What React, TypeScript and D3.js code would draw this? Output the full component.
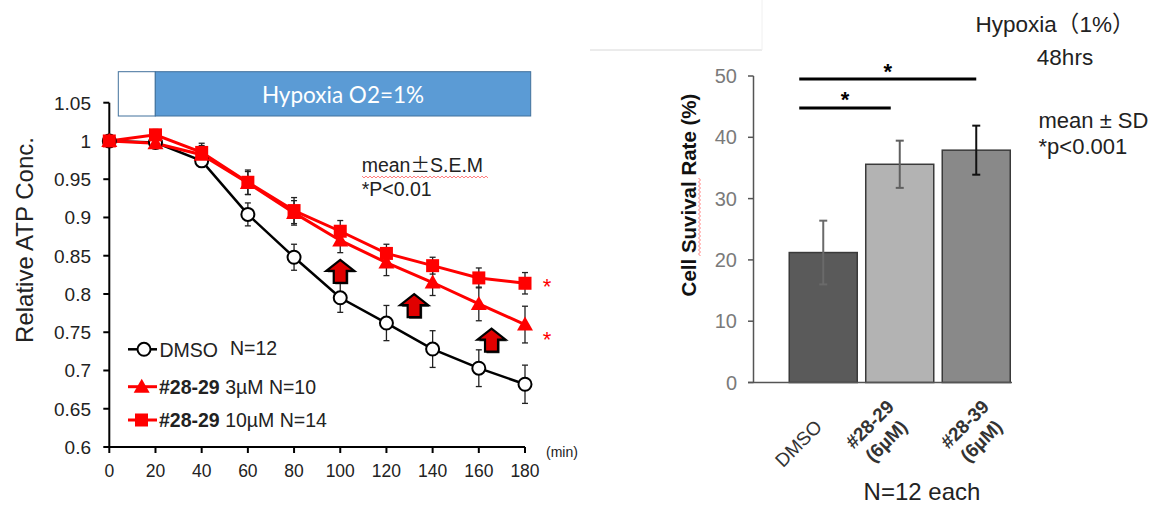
import React from "react";
import * as d3 from "d3";

// ---------- Left chart data ----------
const times = [0, 20, 40, 60, 80, 100, 120, 140, 160, 180];
const dmsoMean = [1.0, 0.998, 0.974, 0.904, 0.848, 0.795, 0.762, 0.728, 0.703, 0.682];
const dmsoSem = [0, 0.004, 0.004, 0.015, 0.017, 0.019, 0.023, 0.024, 0.024, 0.025];
const low3Mean = [1.0, 0.997, 0.982, 0.945, 0.906, 0.87, 0.841, 0.815, 0.787, 0.76];
const low3Sem = [0, 0.006, 0.012, 0.015, 0.016, 0.016, 0.017, 0.017, 0.022, 0.024];
const high10Mean = [1.0, 1.008, 0.985, 0.946, 0.909, 0.882, 0.853, 0.837, 0.821, 0.814];
const high10Sem = [0, 0.007, 0.012, 0.016, 0.017, 0.014, 0.012, 0.011, 0.013, 0.014];
const atpTicks = [0.6, 0.65, 0.7, 0.75, 0.8, 0.85, 0.9, 0.95, 1, 1.05];
const timeTicks = [0, 20, 40, 60, 80, 100, 120, 140, 160, 180];
const arrowMarks = [
  { t: 100, v: 0.829 },
  { t: 132, v: 0.784 },
  { t: 165.5, v: 0.739 },
];
const sigStarsLeft = [0.817, 0.748];

// ---------- Right chart data ----------
const barCats = ["DMSO", "#28-29 (6µM)", "#28-39 (6µM)"];
const barLabelLines = [["DMSO"], ["#28-29", "(6µM)"], ["#28-39", "(6µM)"]];
const barValues = [21.2, 35.6, 37.9];
const barSd = [5.2, 3.85, 4.0];
const barColors = ["#5a5a5a", "#b3b3b3", "#898989"];
const errColors = ["#6a6a6a", "#606060", "#111111"];
const survTicks = [0, 10, 20, 30, 40, 50];
const sigBars = [
  { from: 0, to: 1, level: 44.8 },
  { from: 0, to: 2, level: 49.5 },
];

const ARIAL = "'Liberation Sans', Arial, sans-serif";
const CJK = "'Noto Sans CJK JP', 'Liberation Sans', sans-serif";
const labelShift = [0, -4.5, 14];

function wavy(x0: number, x1: number, y: number, vertical = false) {
  const pts: string[] = [];
  let k = 0;
  for (let p = x0; p <= x1; p += 2) {
    const o = k % 2 === 0 ? -1 : 1;
    pts.push(vertical ? `${y + o},${p}` : `${p},${y + o}`);
    k++;
  }
  return "M" + pts.join("L");
}

export default function App() {
  // Left scales
  const x = d3.scaleLinear().domain([0, 180]).range([109.3, 525]);
  const y = d3.scaleLinear().domain([0.6, 1.05]).range([447, 102.7]);
  const line = d3
    .line<number>()
    .x((_, i) => x(times[i]))
    .y((d) => y(d));

  // Right scales
  const xb = d3.scaleBand<string>().domain(barCats).range([785, 1014.5]).paddingInner(0.111).paddingOuter(0.0555);
  const yb = d3.scaleLinear().domain([0, 50]).range([382.5, 76]);

  const series = [
    { mean: dmsoMean, sem: dmsoSem, color: "#000", width: 2.5, marker: "circle" },
    { mean: low3Mean, sem: low3Sem, color: "#ff0000", width: 3, marker: "triangle" },
    { mean: high10Mean, sem: high10Sem, color: "#ff0000", width: 3, marker: "square" },
  ];

  const marker = (type: string, cx: number, cy: number, key: string) => {
    if (type === "circle")
      return <circle key={key} cx={cx} cy={cy} r={6.5} fill="#fff" stroke="#000" strokeWidth={2} />;
    if (type === "triangle")
      return (
        <path
          key={key}
          d={`M${cx},${cy - 8}L${cx + 8},${cy + 6}L${cx - 8},${cy + 6}Z`}
          fill="#ff0000"
        />
      );
    return <rect key={key} x={cx - 6.5} y={cy - 6.5} width={13} height={13} fill="#ff0000" />;
  };

  const arrowPath = (cx: number, cy: number) =>
    `M${cx},${cy - 12}L${cx + 14},${cy - 1}L${cx + 6.5},${cy - 1}L${cx + 6.5},${cy + 11}L${cx - 6.5},${cy + 11}L${cx - 6.5},${cy - 1}L${cx - 14},${cy - 1}Z`;

  const bw = xb.bandwidth();

  return (
    <svg
      width={1166}
      height={506}
      style={{ position: "absolute", left: 0, top: 0, background: "#fff" }}
      fontFamily={ARIAL}
    >
      <rect width={1166} height={506} fill="#fff" />

      {/* ================= LEFT CHART ================= */}
      <rect x={118.3} y={71.7} width={37} height={44.3} fill="#fff" stroke="#41719c" strokeWidth={1} />
      <rect x={155.3} y={71.7} width={375.4} height={44.3} fill="#5b9bd5" stroke="#41719c" strokeWidth={1} />
      <text x={343} y={102.5} textAnchor="middle" fill="#fff" fontSize={22.5} fontFamily="Lato, 'Open Sans', sans-serif">
        Hypoxia O2=1%
      </text>

      {/* axes */}
      <line x1={x(0)} x2={x(0)} y1={y(1.05)} y2={y(0.6)} stroke="#000" strokeWidth={2} />
      <line x1={x(0)} x2={x(180)} y1={y(0.6)} y2={y(0.6)} stroke="#000" strokeWidth={2} />
      {atpTicks.map((t) => (
        <g key={"yt" + t}>
          <line x1={x(0) - 6} x2={x(0)} y1={y(t)} y2={y(t)} stroke="#000" strokeWidth={2} />
          <text x={91} y={y(t) + 6.8} textAnchor="end" fontSize={19} fill="#222">
            {String(+t.toFixed(2))}
          </text>
        </g>
      ))}
      {timeTicks.map((t) => (
        <g key={"xt" + t}>
          <line x1={x(t)} x2={x(t)} y1={y(0.6)} y2={y(0.6) + 6} stroke="#000" strokeWidth={2} />
          <text x={x(t)} y={477} textAnchor="middle" fontSize={17.5} fill="#222">
            {t}
          </text>
        </g>
      ))}
      <text x={546} y={457} fontSize={14} fill="#222">(min)</text>
      <text transform={`translate(33,240) rotate(-90)`} textAnchor="middle" fontSize={24} fill="#222">
        Relative ATP Conc.
      </text>

      {/* annotation text */}
      <text x={361.7} y={172} fontSize={19.5} fill="#222">
        mean<tspan fontFamily={CJK}>±</tspan>S.E.M
      </text>
      <path d={wavy(362, 488, 177)} fill="none" stroke="#ff6060" strokeWidth={0.8} />
      <text x={361.7} y={195.5} fontSize={19.5} fill="#222">*P&lt;0.01</text>

      {/* series */}
      {series.map((s, si) => (
        <g key={"s" + si}>
          {s.mean.map((m, i) =>
            s.sem[i] > 0 ? (
              <g key={"e" + i} stroke="#222" strokeWidth={1.3}>
                <line x1={x(times[i])} x2={x(times[i])} y1={y(m - s.sem[i])} y2={y(m + s.sem[i])} />
                <line x1={x(times[i]) - 3} x2={x(times[i]) + 3} y1={y(m - s.sem[i])} y2={y(m - s.sem[i])} />
                <line x1={x(times[i]) - 3} x2={x(times[i]) + 3} y1={y(m + s.sem[i])} y2={y(m + s.sem[i])} />
              </g>
            ) : null
          )}
          <path d={line(s.mean) || ""} fill="none" stroke={s.color} strokeWidth={s.width} />
        </g>
      ))}
      {series.map((s, si) => (
        <g key={"m" + si}>{s.mean.map((m, i) => marker(s.marker, x(times[i]), y(m), "mk" + si + "-" + i))}</g>
      ))}

      {/* arrows */}
      {arrowMarks.map((a, i) => (
        <g key={"ar" + i}>
          <path d={arrowPath(x(a.t) + 1.5, y(a.v) + 1.5)} fill="#333" />
          <path d={arrowPath(x(a.t), y(a.v))} fill="#e00000" stroke="#000" strokeWidth={2.2} strokeLinejoin="miter" />
        </g>
      ))}

      {/* significance stars */}
      {sigStarsLeft.map((v, i) => (
        <text key={"ls" + i} x={547} y={y(v) + 13} textAnchor="middle" fontSize={22} fill="#ff0000">
          *
        </text>
      ))}

      {/* legend */}
      <g>
        <line x1={128} x2={157} y1={349.3} y2={349.3} stroke="#000" strokeWidth={2.5} />
        <circle cx={144} cy={349.3} r={6.5} fill="#fff" stroke="#000" strokeWidth={2} />
        <text x={159.5} y={357} fontSize={19.5} fill="#222">DMSO</text>
        <text x={230} y={355} fontSize={19.5} fill="#222">N=12</text>

        <line x1={128} x2={157} y1={386.7} y2={386.7} stroke="#ff0000" strokeWidth={3} />
        <path d={`M141.7,378.7L149.7,392.7L133.7,392.7Z`} fill="#ff0000" />
        <text x={159} y={394} fontSize={19.5} fill="#222">
          <tspan fontWeight="bold">#28-29</tspan>
          <tspan> 3µM N=10</tspan>
        </text>

        <line x1={128} x2={157} y1={420} y2={420} stroke="#ff0000" strokeWidth={3} />
        <rect x={135} y={413.5} width={13} height={13} fill="#ff0000" />
        <text x={159} y={427} fontSize={19.5} fill="#222">
          <tspan fontWeight="bold">#28-29</tspan>
          <tspan> 10µM N=14</tspan>
        </text>
      </g>

      {/* ================= RIGHT CHART ================= */}
      <line x1={590} x2={762} y1={50} y2={50} stroke="#d8d8d8" strokeWidth={1} />
      <line x1={762} x2={762} y1={0} y2={50} stroke="#f0f0f0" strokeWidth={1} />

      <text x={1055} y={32} textAnchor="middle" fontSize={22.5} fill="#222" fontFamily={CJK}>
        <tspan fontFamily={ARIAL}>Hypoxia</tspan>（<tspan fontFamily={ARIAL}>1%</tspan>）
      </text>
      <text x={1065} y={65} textAnchor="middle" fontSize={22.5} fill="#222">48hrs</text>
      <text x={1038.5} y={127.5} fontSize={22} fill="#222">
        mean ± SD
      </text>
      <text x={1038.5} y={153.5} fontSize={22} fill="#222">
        *p&lt;0.001
      </text>

      {/* bars */}
      {barCats.map((c, i) => (
        <rect
          key={"b" + i}
          x={xb(c)}
          y={yb(barValues[i])}
          width={bw}
          height={yb(0) - yb(barValues[i])}
          fill={barColors[i]}
          stroke="#3a3a3a"
          strokeWidth={1.5}
        />
      ))}
      {barCats.map((c, i) => {
        const cx = (xb(c) as number) + bw / 2;
        return (
          <g key={"be" + i} stroke={errColors[i]} strokeWidth={2}>
            <line x1={cx} x2={cx} y1={yb(barValues[i] - barSd[i])} y2={yb(barValues[i] + barSd[i])} />
            <line x1={cx - 4} x2={cx + 4} y1={yb(barValues[i] + barSd[i])} y2={yb(barValues[i] + barSd[i])} />
            <line x1={cx - 4} x2={cx + 4} y1={yb(barValues[i] - barSd[i])} y2={yb(barValues[i] - barSd[i])} />
          </g>
        );
      })}

      {/* axes */}
      <line x1={753.5} x2={753.5} y1={yb(50)} y2={yb(0)} stroke="#555" strokeWidth={1.5} />
      <line x1={748} x2={1012} y1={yb(0)} y2={yb(0)} stroke="#555" strokeWidth={1.5} />
      {survTicks.map((t) => (
        <g key={"st" + t}>
          <line x1={748} x2={753.5} y1={yb(t)} y2={yb(t)} stroke="#555" strokeWidth={1.5} />
          <text x={737} y={yb(t) + 7} textAnchor="end" fontSize={20} fill="#7a7a7a">
            {t}
          </text>
        </g>
      ))}
      <text transform={`translate(696,195) rotate(-90)`} textAnchor="middle" fontSize={20.5} fontWeight="bold" fill="#111">
        Cell Suvival Rate (%)
      </text>
      <path d={wavy(178, 257, 699.5, true)} fill="none" stroke="#ff6060" strokeWidth={0.8} />

      {/* significance bars */}
      {sigBars.map((s, i) => {
        const x0 = (xb(barCats[s.from]) as number) + 10;
        const x1 = (xb(barCats[s.to]) as number) + bw / 2 - (s.to === 1 ? 9 : 0);
        return (
          <g key={"sb" + i}>
            <line x1={x0} x2={x1} y1={yb(s.level)} y2={yb(s.level)} stroke="#000" strokeWidth={3} />
            <text x={(x0 + x1) / 2} y={yb(s.level) - 0.5} textAnchor="middle" fontSize={22} fontWeight="bold" fill="#000">
              *
            </text>
          </g>
        );
      })}

      {/* x labels */}
      {barCats.map((c, i) => {
        const cx = (xb(c) as number) + bw / 2 + labelShift[i];
        const lines = barLabelLines[i];
        return (
          <g key={"xl" + i} transform={`translate(${cx},${lines.length === 1 ? 428 : 408}) rotate(-45)`}>
            {lines.map((l, j) => (
              <text
                key={j}
                x={j === 0 ? 0 : -4.7}
                y={j * 23.5}
                textAnchor="end"
                fontSize={19}
                fontWeight={lines.length === 1 ? "normal" : "bold"}
                fill="#333"
              >
                {l}
              </text>
            ))}
          </g>
        );
      })}
      <text x={922} y={500} textAnchor="middle" fontSize={24} fill="#222">N=12 each</text>
    </svg>
  );
}
